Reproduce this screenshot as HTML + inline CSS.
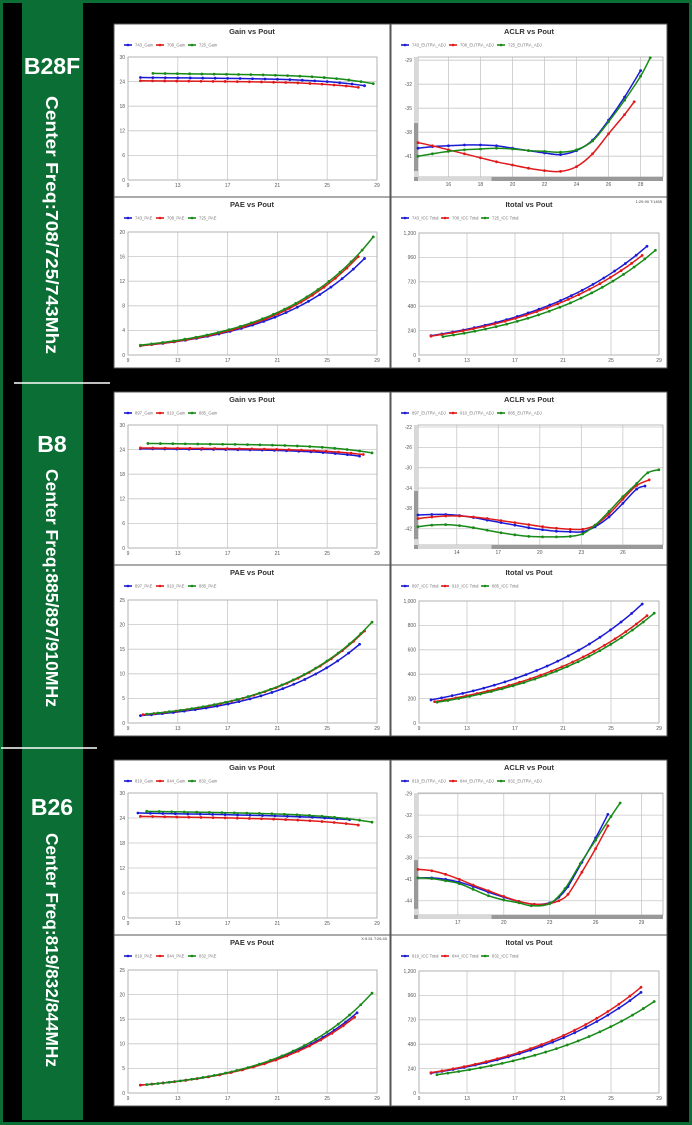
<!DOCTYPE html>
<html><head><meta charset="utf-8">
<style>
html,body{margin:0;padding:0;background:#000;}
svg{display:block;}
text{font-family:"Liberation Sans",sans-serif;}
</style></head>
<body>
<svg id="s" width="692" height="1125" viewBox="0 0 692 1125" xmlns="http://www.w3.org/2000/svg">
<rect x="0" y="0" width="692" height="1125" fill="#000"/>
<rect x="1.5" y="1.5" width="689" height="1122" fill="none" stroke="#0b6e34" stroke-width="3"/>
<rect x="22" y="3" width="61" height="1117" fill="#0b6e34"/>
<line x1="14" y1="383" x2="110" y2="383" stroke="#fff" stroke-width="1.5"/>
<line x1="1" y1="748" x2="97" y2="748" stroke="#fff" stroke-width="1.5"/>
<text x="52" y="74" fill="#fff" font-size="23" font-weight="bold" text-anchor="middle">B28F</text>
<text x="52" y="452" fill="#fff" font-size="23" font-weight="bold" text-anchor="middle">B8</text>
<text x="52" y="815" fill="#fff" font-size="23" font-weight="bold" text-anchor="middle">B26</text>
<text transform="translate(46,225) rotate(90)" fill="#fff" font-size="17.5" font-weight="bold" text-anchor="middle" textLength="258" lengthAdjust="spacingAndGlyphs">Center Freq:708/725/743Mhz</text>
<text transform="translate(46,588) rotate(90)" fill="#fff" font-size="17.5" font-weight="bold" text-anchor="middle" textLength="238" lengthAdjust="spacingAndGlyphs">Center Freq:885/897/910MHz</text>
<text transform="translate(46,950) rotate(90)" fill="#fff" font-size="17.5" font-weight="bold" text-anchor="middle" textLength="234" lengthAdjust="spacingAndGlyphs">Center Freq:819/832/844MHz</text>
</svg>
<script>
const S=document.getElementById('s');const NS='http://www.w3.org/2000/svg';
function el(t,a,txt){const e=document.createElementNS(NS,t);for(const k in a)e.setAttribute(k,a[k]);if(txt!==undefined)e.textContent=txt;S.appendChild(e);return e;}
const COL=['#1a1ad6','#e01a1a','#178a17'];
function gain(x0,x1,ys,ye,lin){const p=[];const n=Math.round(x1-x0);for(let i=0;i<=n;i++){const x=x0+(x1-x0)*i/n;const t=i/n;const l=lin||0.25;p.push([x,ys-(ys-ye)*(l*t+(1-l)*Math.pow(t,5))]);}return p;}
function expo(x0,x1,y0,y1){const p=[];const n=Math.round((x1-x0)/0.9);const b=Math.log(y1/y0)/(x1-x0);for(let i=0;i<=n;i++){const x=x0+(x1-x0)*i/n;p.push([x,y0*Math.exp(b*(x-x0))]);}return p;}
function smooth(pts){let d='M'+pts[0][0]+','+pts[0][1];for(let i=0;i<pts.length-1;i++){const p0=pts[Math.max(0,i-1)],p1=pts[i],p2=pts[i+1],p3=pts[Math.min(pts.length-1,i+2)];const c1=[p1[0]+(p2[0]-p0[0])/6,p1[1]+(p2[1]-p0[1])/6];const c2=[p2[0]-(p3[0]-p1[0])/6,p2[1]-(p3[1]-p1[1])/6];d+=' C'+c1[0]+','+c1[1]+' '+c2[0]+','+c2[1]+' '+p2[0]+','+p2[1];}return d;}
function chart(o){
 el('rect',{x:o.x,y:o.y,width:o.w,height:o.h,fill:'#fff',stroke:'#555','stroke-width':1});
 el('text',{x:o.x+o.w/2,y:o.y+10,'font-size':7.5,'font-weight':'bold','text-anchor':'middle',fill:'#333'},o.title);
 o.leg.forEach((n,i)=>{const lx=o.x+10+i*o.ls;const ly=o.y+21;el('line',{x1:lx,y1:ly,x2:lx+8,y2:ly,stroke:COL[i],'stroke-width':1.6});el('circle',{cx:lx+4,cy:ly,r:1.3,fill:COL[i]});el('text',{x:lx+11,y:ly+1.6,'font-size':4.2,fill:'#777'},n);});
 const L=o.x+o.pl,R=o.x+o.w-o.pr,T=o.y+o.pt,B=o.y+o.h-o.pb;
 const X=v=>L+(v-o.xr[0])/(o.xr[1]-o.xr[0])*(R-L);const Y=v=>B-(v-o.yr[0])/(o.yr[1]-o.yr[0])*(B-T);
 o.xt.forEach(v=>{el('line',{x1:X(v),y1:T,x2:X(v),y2:B,stroke:'#c8c8c8','stroke-width':0.8});el('text',{x:X(v),y:B+(o.aclr?9:7),'font-size':5,'text-anchor':'middle',fill:'#555'},v);});
 o.yt.forEach(v=>{el('line',{x1:L,y1:Y(v),x2:R,y2:Y(v),stroke:'#c8c8c8','stroke-width':0.8});el('text',{x:L-(o.aclr?6:3),y:Y(v)+1.8,'font-size':5,'text-anchor':'end',fill:'#555'},o.fmt?o.fmt(v):v);});
 el('rect',{x:L,y:T,width:R-L,height:B-T,fill:'none',stroke:'#aaa','stroke-width':0.8});
 if(o.aclr){el('rect',{x:L-4,y:T,width:4,height:B-T,fill:'#d8d8d8'});el('rect',{x:L-4,y:T+(B-T)*0.55,width:4,height:(B-T)*0.4,fill:'#999'});
  el('rect',{x:L-4,y:B,width:R-L+4,height:4,fill:'#999'});el('rect',{x:L,y:B,width:(R-L)*0.3,height:4,fill:'#d8d8d8'});}
 o.s.forEach((pts,i)=>{const q=pts.map(p=>[X(p[0]),Y(p[1])]);el('path',{d:smooth(q),fill:'none',stroke:COL[i],'stroke-width':1.5});q.forEach(p=>el('circle',{cx:p[0],cy:p[1],r:1.4,fill:COL[i]}));});
}
const com=v=>v>=1000?(Math.floor(v/1000)+','+String(v%1000).padStart(3,'0')):v;
const bands=[
 {t:24,m:197,b:368,n:['743','708','725'],
  g:[gain(10,28,25,23),gain(10,27.5,24.2,22.6),gain(11,28.7,26,23.5)],
  pae:[expo(10,28,1.5,15.7),expo(10,27.5,1.5,16),expo(10,28.7,1.6,19.2)],py:[0,20],pt:[0,4,8,12,16,20],
  ic:[expo(10,28,190,1070),expo(10,27.6,185,980),expo(11,28.7,180,1030)],iy:[0,1200],it:[0,240,480,720,960,1200],
  ax:[14.1,29.4],axt:[16,18,20,22,24,26,28],ay:[-43.6,-28.6],ayt:[-29,-32,-35,-38,-41],
  ac:[[[14.1,-40],[15,-39.8],[16,-39.7],[17,-39.6],[18,-39.6],[19,-39.7],[20,-40],[21,-40.3],[22,-40.6],[23,-40.8],[24,-40.3],[25,-39],[26,-36.5],[27,-33.6],[28,-30.3]],
      [[14.1,-39.3],[15,-39.7],[16,-40.2],[17,-40.7],[18,-41.2],[19,-41.7],[20,-42.1],[21,-42.5],[22,-42.8],[23,-42.9],[24,-42.3],[25,-40.7],[26,-38.2],[27,-35.8],[27.6,-34.2]],
      [[14.1,-41],[15,-40.7],[16,-40.4],[17,-40.2],[18,-40.1],[19,-40],[20,-40.1],[21,-40.3],[22,-40.4],[23,-40.5],[24,-40.2],[25,-39.1],[26,-36.7],[27,-34],[28,-31],[28.6,-28.7]]]},
 {t:392,m:565,b:736,n:['897','910','885'],
  g:[gain(10,27.6,24.2,22.4),gain(10,27.9,24.4,22.8),gain(10.6,28.6,25.5,23.2)],
  pae:[expo(10,27.6,1.5,16),expo(10.2,28,1.7,18.7),expo(10.5,28.6,1.8,20.5)],py:[0,25],pt:[0,5,10,15,20,25],
  ic:[expo(10,27.6,190,975),expo(10.3,28,175,880),expo(10.5,28.6,170,900)],iy:[0,1000],it:[0,200,400,600,800,1000],
  ax:[11.2,28.9],axt:[14,17,20,23,26],ay:[-45.2,-21.6],ayt:[-22,-26,-30,-34,-38,-42],
  ac:[[[11.2,-39.3],[12.2,-39.2],[13.2,-39.2],[14.2,-39.4],[15.2,-39.8],[16.2,-40.3],[17.2,-40.8],[18.2,-41.3],[19.2,-41.8],[20.2,-42.2],[21.2,-42.5],[22.2,-42.6],[23.1,-42.6],[24,-41.6],[25,-39.7],[26,-37],[27,-34.2],[27.6,-33.6]],
      [[11.2,-40],[12.2,-39.7],[13.2,-39.5],[14.2,-39.5],[15.2,-39.7],[16.2,-40],[17.2,-40.4],[18.2,-40.8],[19.2,-41.2],[20.2,-41.6],[21.2,-41.9],[22.2,-42.1],[23.1,-42.1],[24,-41.3],[25,-39.1],[26,-36.2],[27,-33.5],[27.9,-32.4]],
      [[11.2,-41.6],[12.2,-41.3],[13.2,-41.2],[14.2,-41.4],[15.2,-41.8],[16.2,-42.3],[17.2,-42.8],[18.2,-43.2],[19.2,-43.5],[20.2,-43.6],[21.2,-43.6],[22.2,-43.5],[23.1,-43],[24,-41.3],[25,-38.6],[26,-35.7],[27,-33.1],[27.8,-31],[28.6,-30.4]]]},
 {t:760,m:935,b:1106,n:['819','844','832'],
  g:[gain(9.8,26.8,25.2,23.6,0.6),gain(10,27.5,24.4,22.3,0.45),gain(10.5,28.6,25.6,23.0,0.35)],
  pae:[expo(10,27.4,1.6,16.3),expo(10,27.2,1.6,15.4),expo(10.5,28.6,1.7,20.3)],py:[0,25],pt:[0,5,10,15,20,25],
  ic:[expo(10,27.5,195,990),expo(10,27.5,200,1040),expo(10.5,28.6,180,900)],iy:[0,1200],it:[0,240,480,720,960,1200],
  ax:[14.4,30.4],axt:[17,20,23,26,29],ay:[-46,-28.9],ayt:[-29,-32,-35,-38,-41,-44],
  ac:[[[14.4,-40.8],[15.3,-40.8],[16.2,-41],[17.1,-41.4],[18,-42],[19,-42.8],[20,-43.5],[21,-44.1],[22,-44.5],[23,-44.3],[23.6,-43.5],[24.2,-42],[25.1,-38.6],[26,-35.2],[26.8,-31.9]],
      [[14.4,-39.6],[15.3,-39.8],[16.2,-40.3],[17.1,-41],[18,-41.8],[19,-42.6],[20,-43.4],[21,-44.1],[22,-44.5],[23,-44.4],[23.6,-44],[24.2,-43.1],[25.1,-40],[26,-36.7],[26.8,-33.5]],
      [[14.4,-40.8],[15.3,-40.9],[16.2,-41.2],[17.1,-41.6],[18,-42.4],[19,-43.3],[20,-43.9],[21,-44.3],[21.8,-44.7],[23,-44.4],[24,-42.3],[25,-38.8],[26,-35.5],[27,-32.2],[27.6,-30.3]]]}
];
bands.forEach(b=>{
 const LX=114,LW=276,RX=391,RW=276;
 chart({x:LX,y:b.t,w:LW,h:b.m-b.t,title:'Gain vs Pout',leg:b.n.map(n=>n+'_Gain'),ls:32,pl:14,pr:13,pt:33,pb:17,xr:[9,29],xt:[9,13,17,21,25,29],yr:[0,30],yt:[0,6,12,18,24,30],s:b.g});
 chart({x:LX,y:b.m,w:LW,h:b.b-b.m,title:'PAE vs Pout',leg:b.n.map(n=>n+'_PAE'),ls:32,pl:14,pr:13,pt:35,pb:13,xr:[9,29],xt:[9,13,17,21,25,29],yr:b.py,yt:b.pt,s:b.pae});
 chart({x:RX,y:b.t,w:RW,h:b.m-b.t,title:'ACLR vs Pout',leg:b.n.map(n=>n+'_EUTRA_ADJ'),ls:48,pl:27,pr:4,pt:33,pb:20,aclr:true,xr:b.ax,xt:b.axt,yr:b.ay,yt:b.ayt,s:b.ac});
 chart({x:RX,y:b.m,w:RW,h:b.b-b.m,title:'Itotal vs Pout',leg:b.n.map(n=>n+'_ICC Total'),ls:40,pl:28,pr:8,pt:36,pb:13,xr:[9,29],xt:[9,13,17,21,25,29],yr:b.iy,yt:b.it,fmt:com,s:b.ic});
});
el('text',{x:662,y:203,'font-size':4,'text-anchor':'end',fill:'#444'},'1:29.90  T:1455');
el('text',{x:387,y:940,'font-size':4,'text-anchor':'end',fill:'#444'},'X:9.51  T:26.45');
</script>
</body></html>
